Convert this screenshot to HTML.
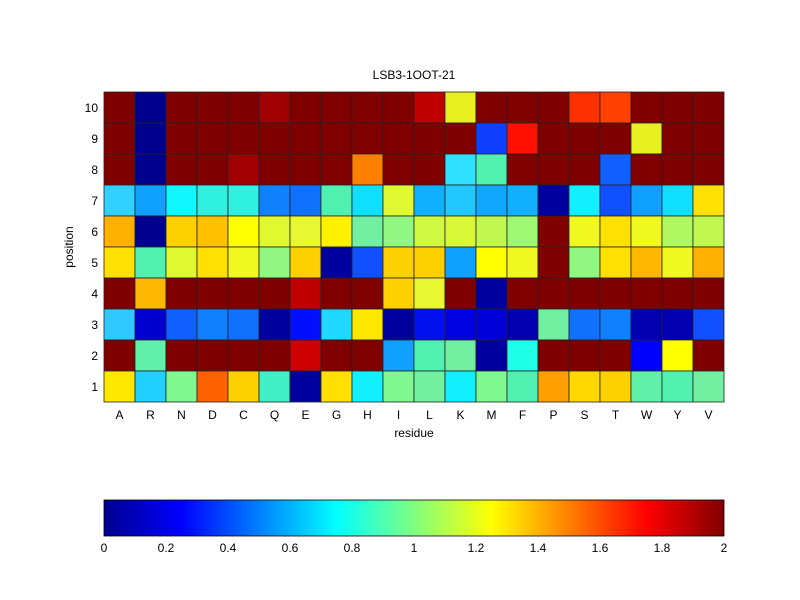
<!DOCTYPE html>
<html><head><style>body{margin:0;background:#fff}svg{display:block;font-family:"Liberation Sans",Arial,sans-serif}</style></head><body>
<svg width="800" height="600" xmlns="http://www.w3.org/2000/svg">
<defs><linearGradient id="jet" x1="0" x2="1" y1="0" y2="0">
<stop offset="0" stop-color="#00008f"/><stop offset="0.125" stop-color="#0000ff"/><stop offset="0.375" stop-color="#00ffff"/><stop offset="0.625" stop-color="#ffff00"/><stop offset="0.875" stop-color="#ff0000"/><stop offset="1" stop-color="#800000"/></linearGradient></defs>
<rect width="800" height="600" fill="#fff"/>
<g id="cells" stroke="#222" stroke-width="0.8"></g>
<text x="414" y="79" font-size="12" text-anchor="middle">LSB3-1OOT-21</text>
<g font-size="12" text-anchor="end" id="yt"></g>
<g font-size="12" text-anchor="middle" id="xt"></g>
<text x="414" y="437" font-size="12" text-anchor="middle">residue</text>
<text x="0" y="0" font-size="12" text-anchor="middle" transform="translate(73,247) rotate(-90)">position</text>
<rect x="104" y="500" width="620" height="36" fill="url(#jet)" stroke="#000" stroke-width="0.8"/>
<g font-size="12" text-anchor="middle" id="cb"></g>
<script>
var rows=[
"800000 00008f 800000 800000 800000 a00000 800000 800000 800000 800000 c00000 e8f020 800000 800000 800000 ff3000 ff4000 800000 800000 800000",
"800000 00008f 800000 800000 800000 800000 800000 800000 800000 800000 800000 800000 1040ff ff1000 800000 800000 800000 e8f020 800000 800000",
"800000 00008f 800000 800000 a00000 800000 800000 800000 ff8000 800000 800000 30e0ff 50f0b0 800000 800000 800000 1060ff 800000 800000 800000",
"30d0ff 10a0ff 10f8ff 30f0e0 30f0e0 1080ff 1070ff 50f0b0 10e0ff e0f830 10b0ff 20c8ff 10a8ff 10b0ff 00009f 10f0ff 1050ff 10a0ff 10e0ff ffe000",
"ffb000 00008f ffd000 ffc000 ffff00 e0f830 e8f830 fff000 70f0a0 90f880 d0f840 d8f838 c0f850 a0f870 800000 f0f820 ffe000 f0f820 b0f860 c0f850",
"ffe000 50f0b0 e0f830 ffe000 f0f820 90f880 ffd000 00009f 1050ff ffd000 ffd000 10a0ff ffff00 f0f820 800000 90f880 ffe000 ffb800 f0f820 ffb000",
"800000 ffb800 800000 800000 800000 800000 c00000 800000 800000 ffd000 e8f830 800000 00009f 800000 800000 800000 800000 800000 800000 800000",
"30c8ff 0000d0 1060ff 1080ff 1070ff 00009f 0010ff 20d8ff ffe800 00009f 0010f0 0000e0 0000d8 0000b0 70f0a0 1070ff 1080ff 0000b0 0000b0 1050ff",
"800000 60f0a8 800000 800000 800000 800000 d00000 800000 800000 10a0ff 50f0b0 70f0a0 00009f 20ffe8 800000 800000 800000 0000ff ffff00 800000",
"ffe800 20d0ff 80f890 ff6000 ffd000 40f0c8 00009f ffe000 10f0ff 80f890 70f0a0 10f0ff 80f890 50f0b0 ffa000 ffd800 ffd000 60f0a8 50f0b0 70f0a0"];
var ns="http://www.w3.org/2000/svg",g=document.getElementById("cells");
function el(t,a,p,tx){var e=document.createElementNS(ns,t);for(var k in a)e.setAttribute(k,a[k]);if(tx!=null)e.textContent=tx;p.appendChild(e);}
rows.forEach(function(r,i){r.split(" ").forEach(function(c,j){el("rect",{x:104+j*31,y:92+i*31,width:31,height:31,fill:"#"+c},g);});});
var yt=document.getElementById("yt");for(var i=0;i<10;i++)el("text",{x:98,y:92+i*31+20},yt,String(10-i));
var xt=document.getElementById("xt"),L="ARNDCQEGHILKMFPSTWYV";for(var j=0;j<20;j++)el("text",{x:104+j*31+15.5,y:419},xt,L[j]);
var cb=document.getElementById("cb");["0","0.2","0.4","0.6","0.8","1","1.2","1.4","1.6","1.8","2"].forEach(function(t,i){el("text",{x:104+i*62,y:552},cb,t);});
</script>
</svg></body></html>
